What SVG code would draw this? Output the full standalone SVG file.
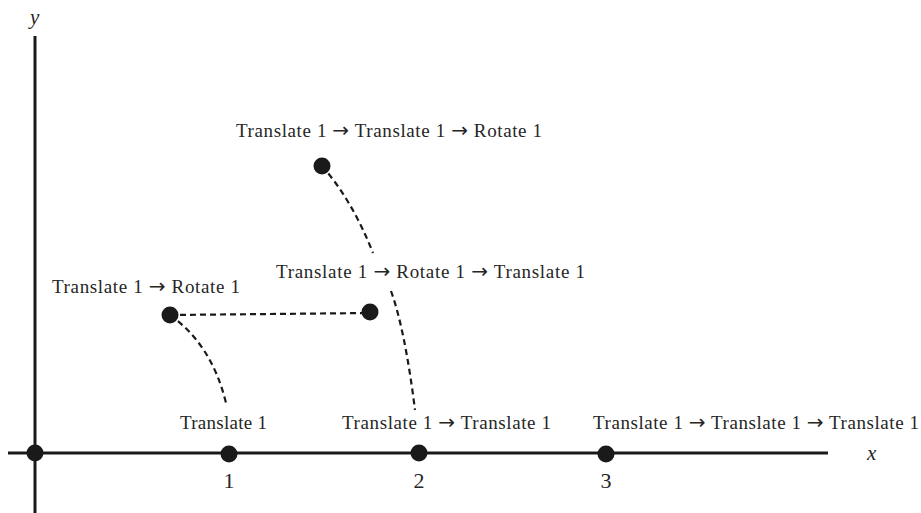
<svg xmlns="http://www.w3.org/2000/svg" width="921" height="513" viewBox="0 0 921 513">
  <style>
    .axis { stroke: #1a1a1a; stroke-width: 3; fill: none; }
    .dot { fill: #1a1a1a; }
    .path { stroke: #1a1a1a; stroke-width: 2.2; fill: none; stroke-dasharray: 6 4; }
    .lbl { font-family: "Liberation Serif", "Times New Roman", serif; font-size: 19px; fill: #262626; }
    .ar { font-family: "DejaVu Sans", sans-serif; font-size: 20px; }
    .axl { font-family: "Liberation Serif", "Times New Roman", serif; font-size: 21px; font-style: italic; fill: #262626; }
    .num { font-family: "Liberation Serif", "Times New Roman", serif; font-size: 22px; fill: #262626; text-anchor: middle; }
  </style>
  <rect width="921" height="513" fill="#ffffff"/>

  <!-- coordinate axes -->
  <g id="axes">
    <line class="axis" x1="35" y1="36" x2="35" y2="513"/>
    <line class="axis" x1="8" y1="453" x2="828" y2="453"/>
    <text class="axl" x="30" y="24">y</text>
    <text class="axl" x="867" y="460">x</text>
    <text class="num" x="229" y="488">1</text>
    <text class="num" x="419" y="488">2</text>
    <text class="num" x="606" y="488">3</text>
  </g>

  <!-- transformation paths -->
  <g id="connectors">
    <path class="path" d="M322,166 Q352,200 373,253"/>
    <path class="path" d="M391,291 Q405,330 415,410"/>
    <path class="path" d="M170,315 Q212,345 226,403"/>
    <line class="path" x1="170" y1="315" x2="370" y2="313"/>
  </g>

  <!-- positions on the x-axis -->
  <g id="origin">
    <circle class="dot" cx="35" cy="453" r="8.5"/>
  </g>
  <g id="t1">
    <circle class="dot" cx="229" cy="454" r="8.5"/>
    <text class="lbl" x="180" y="429" textLength="87">Translate 1</text>
  </g>
  <g id="t1-t1">
    <circle class="dot" cx="419" cy="453" r="8.5"/>
    <text class="lbl" x="342" y="429" textLength="209">Translate 1 <tspan class="ar">→</tspan> Translate 1</text>
  </g>
  <g id="t1-t1-t1">
    <circle class="dot" cx="606" cy="454" r="8.5"/>
    <text class="lbl" x="593" y="429" textLength="326">Translate 1 <tspan class="ar">→</tspan> Translate 1 <tspan class="ar">→</tspan> Translate 1</text>
  </g>

  <!-- rotated positions -->
  <g id="t1-r1">
    <circle class="dot" cx="170" cy="315" r="8.5"/>
    <text class="lbl" x="52" y="293" textLength="188">Translate 1 <tspan class="ar">→</tspan> Rotate 1</text>
  </g>
  <g id="t1-r1-t1">
    <circle class="dot" cx="370" cy="312" r="8.5"/>
    <text class="lbl" x="276" y="278" textLength="309">Translate 1 <tspan class="ar">→</tspan> Rotate 1 <tspan class="ar">→</tspan> Translate 1</text>
  </g>
  <g id="t1-t1-r1">
    <circle class="dot" cx="322" cy="166" r="8.5"/>
    <text class="lbl" x="236" y="137" textLength="306">Translate 1 <tspan class="ar">→</tspan> Translate 1 <tspan class="ar">→</tspan> Rotate 1</text>
  </g>
</svg>
